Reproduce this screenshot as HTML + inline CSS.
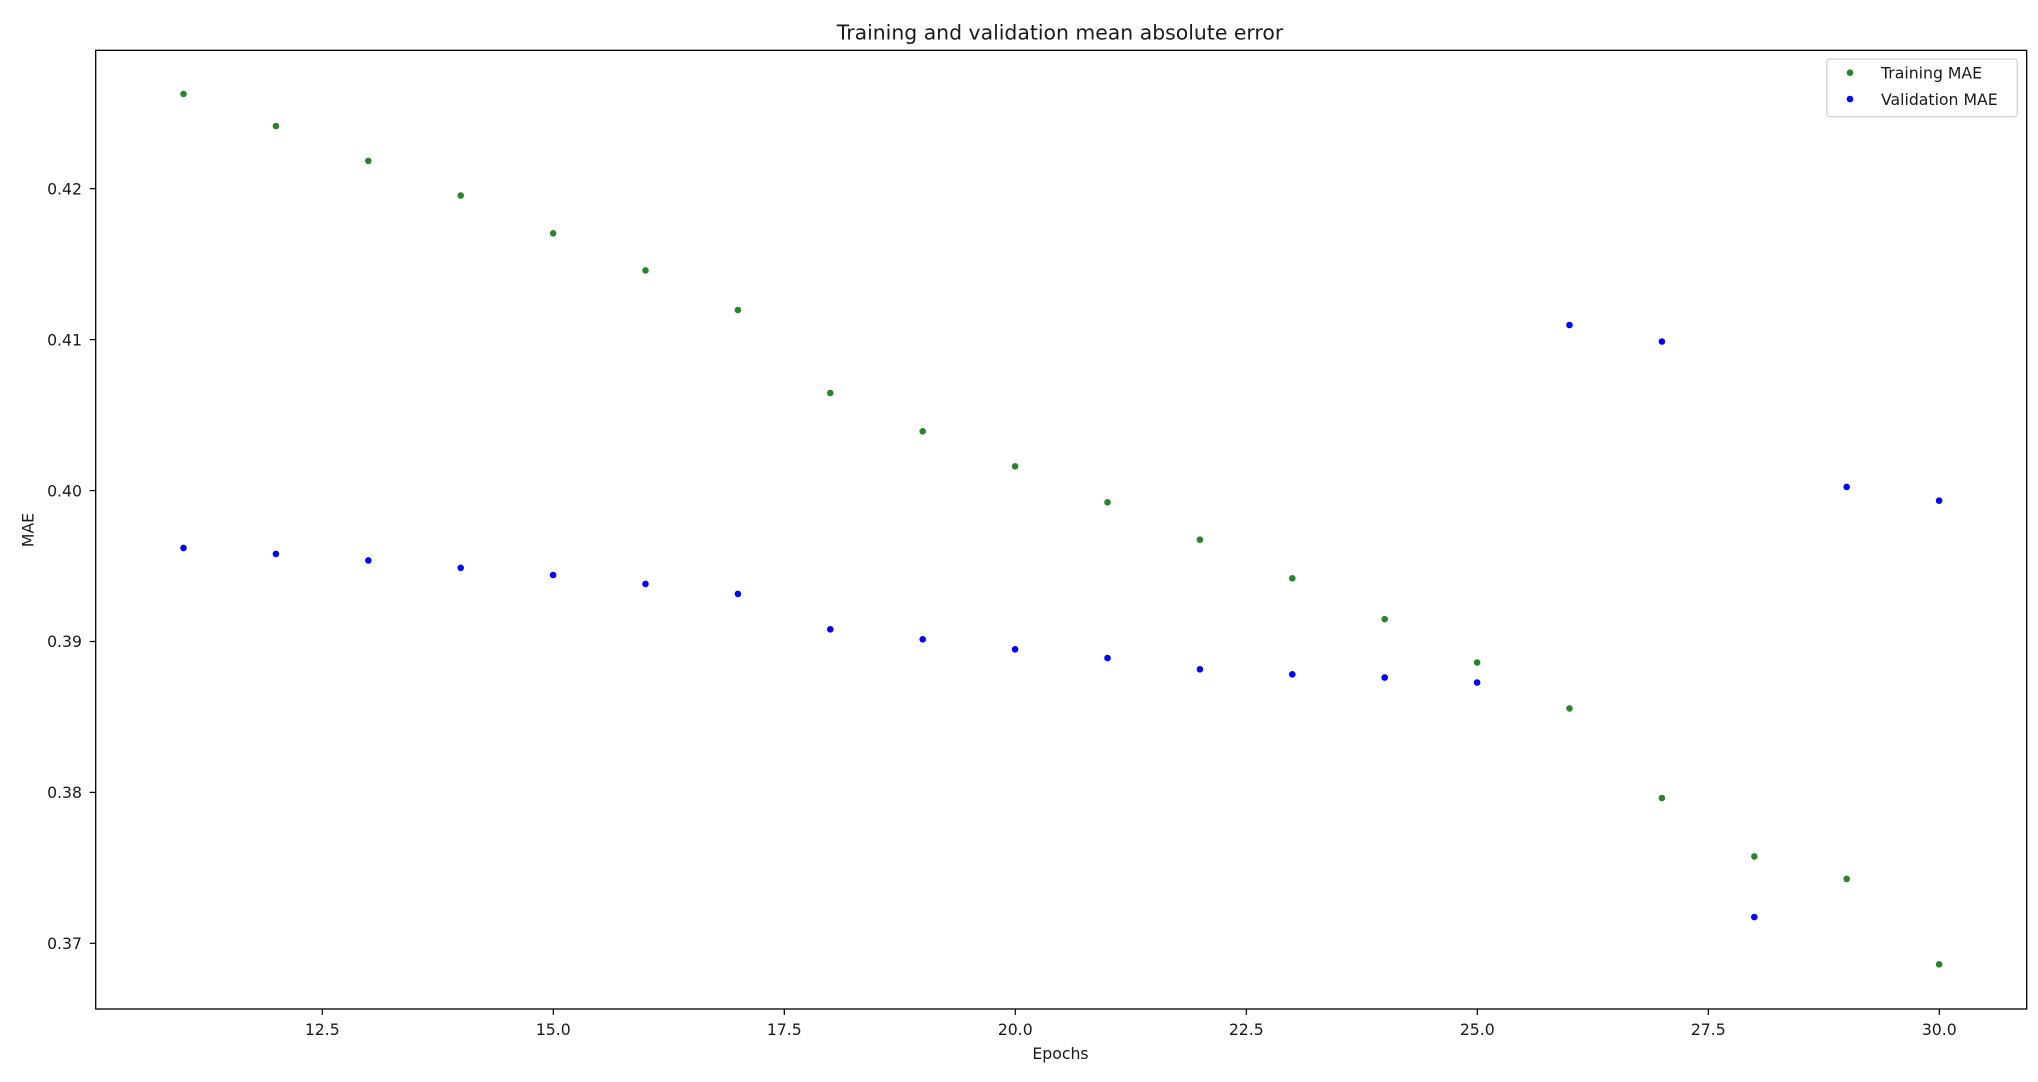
<!DOCTYPE html>
<html>
<head>
<meta charset="utf-8">
<style>
  html, body { margin: 0; padding: 0; background: #ffffff; }
  svg { display: block; }
  text { font-family: "DejaVu Sans", "Liberation Sans", sans-serif; fill: #1a1a1a; }
</style>
</head>
<body>
<svg width="2038" height="1082" viewBox="0 0 2038 1082" xmlns="http://www.w3.org/2000/svg">
  <rect x="0" y="0" width="2038" height="1082" fill="#ffffff"/>

  <!-- Title -->
  <text x="1060" y="39.5" font-size="20.4" text-anchor="middle">Training and validation mean absolute error</text>

  <!-- Axes frame -->
  <rect x="95.7" y="50.3" width="1931" height="958.7" fill="none" stroke="#000" stroke-width="1.3"/>

  <!-- Y ticks -->
  <g stroke="#000" stroke-width="1.2">
    <line x1="89.7" y1="188.7" x2="95.7" y2="188.7"/>
    <line x1="89.7" y1="339.6" x2="95.7" y2="339.6"/>
    <line x1="89.7" y1="490.6" x2="95.7" y2="490.6"/>
    <line x1="89.7" y1="641.5" x2="95.7" y2="641.5"/>
    <line x1="89.7" y1="792.4" x2="95.7" y2="792.4"/>
    <line x1="89.7" y1="943.3" x2="95.7" y2="943.3"/>
  </g>
  <g font-size="15.7" text-anchor="end">
    <text x="82" y="194.4">0.42</text>
    <text x="82" y="345.3">0.41</text>
    <text x="82" y="496.3">0.40</text>
    <text x="82" y="647.2">0.39</text>
    <text x="82" y="798.1">0.38</text>
    <text x="82" y="949.0">0.37</text>
  </g>
  <text x="0" y="0" font-size="15.7" text-anchor="middle" transform="translate(33.5,530) rotate(-90)">MAE</text>

  <!-- X ticks -->
  <g stroke="#000" stroke-width="1.2">
    <line x1="322.3" y1="1009" x2="322.3" y2="1015"/>
    <line x1="553.3" y1="1009" x2="553.3" y2="1015"/>
    <line x1="784.3" y1="1009" x2="784.3" y2="1015"/>
    <line x1="1015.3" y1="1009" x2="1015.3" y2="1015"/>
    <line x1="1246.3" y1="1009" x2="1246.3" y2="1015"/>
    <line x1="1477.3" y1="1009" x2="1477.3" y2="1015"/>
    <line x1="1708.3" y1="1009" x2="1708.3" y2="1015"/>
    <line x1="1939.3" y1="1009" x2="1939.3" y2="1015"/>
  </g>
  <g font-size="15.7" text-anchor="middle">
    <text x="322.3" y="1035">12.5</text>
    <text x="553.3" y="1035">15.0</text>
    <text x="784.3" y="1035">17.5</text>
    <text x="1015.3" y="1035">20.0</text>
    <text x="1246.3" y="1035">22.5</text>
    <text x="1477.3" y="1035">25.0</text>
    <text x="1708.3" y="1035">27.5</text>
    <text x="1939.3" y="1035">30.0</text>
  </g>
  <text x="1060.5" y="1059" font-size="15.7" text-anchor="middle">Epochs</text>

  <!-- Training MAE (green) -->
  <g fill="#2a842a">
    <circle cx="183.5" cy="93.9" r="3.3"/>
    <circle cx="275.9" cy="126.0" r="3.3"/>
    <circle cx="368.3" cy="160.9" r="3.3"/>
    <circle cx="460.7" cy="195.5" r="3.3"/>
    <circle cx="553.1" cy="233.3" r="3.3"/>
    <circle cx="645.5" cy="270.4" r="3.3"/>
    <circle cx="737.9" cy="310.0" r="3.3"/>
    <circle cx="830.3" cy="393.0" r="3.3"/>
    <circle cx="922.7" cy="431.3" r="3.3"/>
    <circle cx="1015.1" cy="466.3" r="3.3"/>
    <circle cx="1107.5" cy="502.3" r="3.3"/>
    <circle cx="1199.9" cy="539.7" r="3.3"/>
    <circle cx="1292.3" cy="578.3" r="3.3"/>
    <circle cx="1384.7" cy="619.2" r="3.3"/>
    <circle cx="1477.1" cy="662.5" r="3.3"/>
    <circle cx="1569.5" cy="708.4" r="3.3"/>
    <circle cx="1661.9" cy="798.0" r="3.3"/>
    <circle cx="1754.3" cy="856.4" r="3.3"/>
    <circle cx="1846.7" cy="878.9" r="3.3"/>
    <circle cx="1939.1" cy="964.3" r="3.3"/>
  </g>

  <!-- Validation MAE (blue) -->
  <g fill="#0000ff">
    <circle cx="183.5" cy="547.9" r="3.3"/>
    <circle cx="275.9" cy="553.9" r="3.3"/>
    <circle cx="368.3" cy="560.4" r="3.3"/>
    <circle cx="460.7" cy="567.8" r="3.3"/>
    <circle cx="553.1" cy="575.0" r="3.3"/>
    <circle cx="645.5" cy="583.9" r="3.3"/>
    <circle cx="737.9" cy="593.9" r="3.3"/>
    <circle cx="830.3" cy="629.3" r="3.3"/>
    <circle cx="922.7" cy="639.3" r="3.3"/>
    <circle cx="1015.1" cy="649.3" r="3.3"/>
    <circle cx="1107.5" cy="658.0" r="3.3"/>
    <circle cx="1199.9" cy="669.3" r="3.3"/>
    <circle cx="1292.3" cy="674.3" r="3.3"/>
    <circle cx="1384.7" cy="677.6" r="3.3"/>
    <circle cx="1477.1" cy="682.5" r="3.3"/>
    <circle cx="1569.5" cy="325.0" r="3.3"/>
    <circle cx="1661.9" cy="341.5" r="3.3"/>
    <circle cx="1754.3" cy="917.1" r="3.3"/>
    <circle cx="1846.7" cy="486.9" r="3.3"/>
    <circle cx="1939.1" cy="500.7" r="3.3"/>
  </g>

  <!-- Legend -->
  <rect x="1826.7" y="59" width="190.6" height="57.7" rx="3" ry="3" fill="#ffffff" fill-opacity="0.8" stroke="#d0d0d0" stroke-width="1.2"/>
  <circle cx="1850" cy="72.7" r="3.3" fill="#2a842a"/>
  <circle cx="1850" cy="99" r="3.3" fill="#0000ff"/>
  <text x="1881" y="78.5" font-size="15.7">Training MAE</text>
  <text x="1881" y="104.8" font-size="15.7">Validation MAE</text>
</svg>
</body>
</html>
